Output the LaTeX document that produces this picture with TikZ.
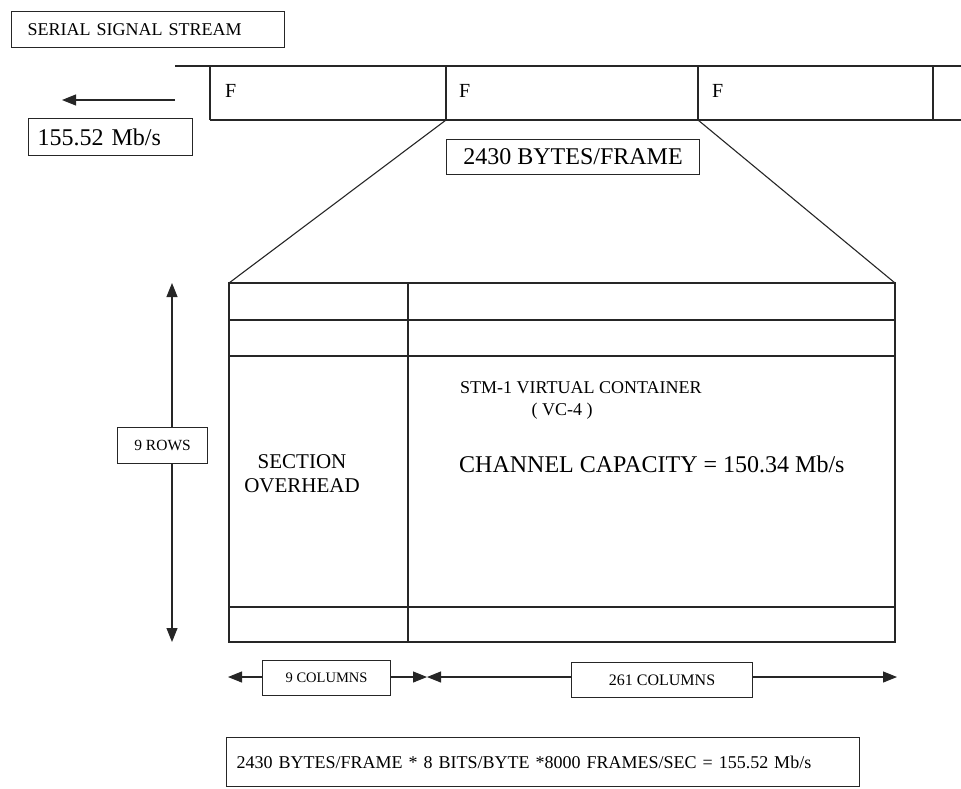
\documentclass[tikz,border=0pt]{standalone}
\usepackage{fontspec}
\setmainfont{Liberation Serif}
\usetikzlibrary{arrows.meta}
\begin{document}
\begin{tikzpicture}[x=1pt,y=-1pt,
  ln/.style={line width=1.1pt, draw=black!85},
  tip/.style={-{Triangle[length=14pt,width=11pt]}},
  dtip/.style={{Triangle[length=14pt,width=11pt]}-{Triangle[length=14pt,width=11pt]}},
  lbox/.style={draw=black!85, line width=1.1pt, fill=white, inner sep=0pt, anchor=north west},
  fs/.style={font=\fontsize{#1}{#1}\selectfont}]
\useasboundingbox (0,0) rectangle (961,788);
% title box
\node[lbox, minimum width=273pt, minimum height=36pt, text width=241pt, inner xsep=16pt, align=left, fs=18] (title) at (11,11) {SERIAL SIGNAL STREAM};
% stream
\coordinate (tl) at (175,66);
\coordinate (tr) at (961,66);
\coordinate (bl) at (210,120);
\coordinate (br) at (961,120);
\draw[ln] (tl) -- (tr);
\draw[ln] (bl) -- (br);
\coordinate (v1t) at (210,66); \coordinate (v1b) at (210,120);
\coordinate (v2t) at (446,66); \coordinate (v2b) at (446,120);
\coordinate (v3t) at (698,66); \coordinate (v3b) at (698,120);
\coordinate (v4t) at (933,66); \coordinate (v4b) at (933,120);
\draw[ln] (v1t) -- (v1b) (v2t) -- (v2b) (v3t) -- (v3b) (v4t) -- (v4b);
\node[fs=20, anchor=west, inner sep=0pt] (f1) at (225,91) {F};
\node[fs=20, anchor=west, inner sep=0pt] (f2) at (459,91) {F};
\node[fs=20, anchor=west, inner sep=0pt] (f3) at (712,91) {F};
% direction arrow
\coordinate (as) at (175,100);
\coordinate (ae) at (62,100);
\draw[ln, tip] (as) -- (ae);
\node[lbox, minimum width=164pt, minimum height=37pt, text width=146pt, inner xsep=9pt, align=left, fs=24] (rate) at (28,118) {155.52 Mb/s};
\node[lbox, minimum width=253pt, minimum height=35pt, fs=24] (bpf) at (446,139) {2430 BYTES/FRAME};
% grid
\coordinate (g1) at (229,283);
\coordinate (g2) at (895,283);
\coordinate (g3) at (895,642);
\coordinate (g4) at (229,642);
\draw[ln] (g1) -- (g2) -- (g3) -- (g4) -- cycle;
\draw[ln] (v2b) -- (g1);
\draw[ln] (v3b) -- (g2);
\coordinate (d1) at (408,283); \coordinate (d2) at (408,642);
\draw[ln] (d1) -- (d2);
\coordinate (h1a) at (229,320); \coordinate (h1b) at (895,320);
\coordinate (h2a) at (229,356); \coordinate (h2b) at (895,356);
\coordinate (h3a) at (229,607); \coordinate (h3b) at (895,607);
\draw[ln] (h1a) -- (h1b) (h2a) -- (h2b) (h3a) -- (h3b);
\node[fs=18, anchor=west, inner sep=0pt] (stm) at (460,388) {STM-1 VIRTUAL CONTAINER};
\node[fs=18, inner sep=0pt] (vc) at (562,411) {( VC-4 )};
\node[fs=24, anchor=west, inner sep=0pt] (cap) at (459,464) {CHANNEL CAPACITY = 150.34 Mb/s};
\node[align=center, inner sep=0pt, font=\fontsize{21}{24}\selectfont] (soh) at (302,474) {SECTION\\OVERHEAD};
% rows arrow
\coordinate (r1) at (172,283);
\coordinate (r2) at (172,642);
\draw[ln, dtip] (r1) -- (r2);
\node[lbox, minimum width=90pt, minimum height=36pt, fs=15.5] (rows) at (117,427) {9 ROWS};
% column arrows
\coordinate (c1) at (228,677);
\coordinate (c2) at (427,677);
\coordinate (c3) at (897,677);
\draw[ln, dtip] (c1) -- (c2);
\draw[ln, dtip] (c2) -- (c3);
\node[lbox, minimum width=128pt, minimum height=35pt, fs=14.5] (col9) at (262,660) {9 COLUMNS};
\node[lbox, minimum width=181pt, minimum height=35pt, fs=16] (col261) at (571,662) {261 COLUMNS};
% formula box
\node[lbox, minimum width=633pt, minimum height=49pt, text width=613pt, align=left, inner xsep=10pt, fs=18] (form) at (226,737) {2430 BYTES/FRAME * 8 BITS/BYTE *8000 FRAMES/SEC = 155.52 Mb/s\\[8pt]};
\end{tikzpicture}
\end{document}
